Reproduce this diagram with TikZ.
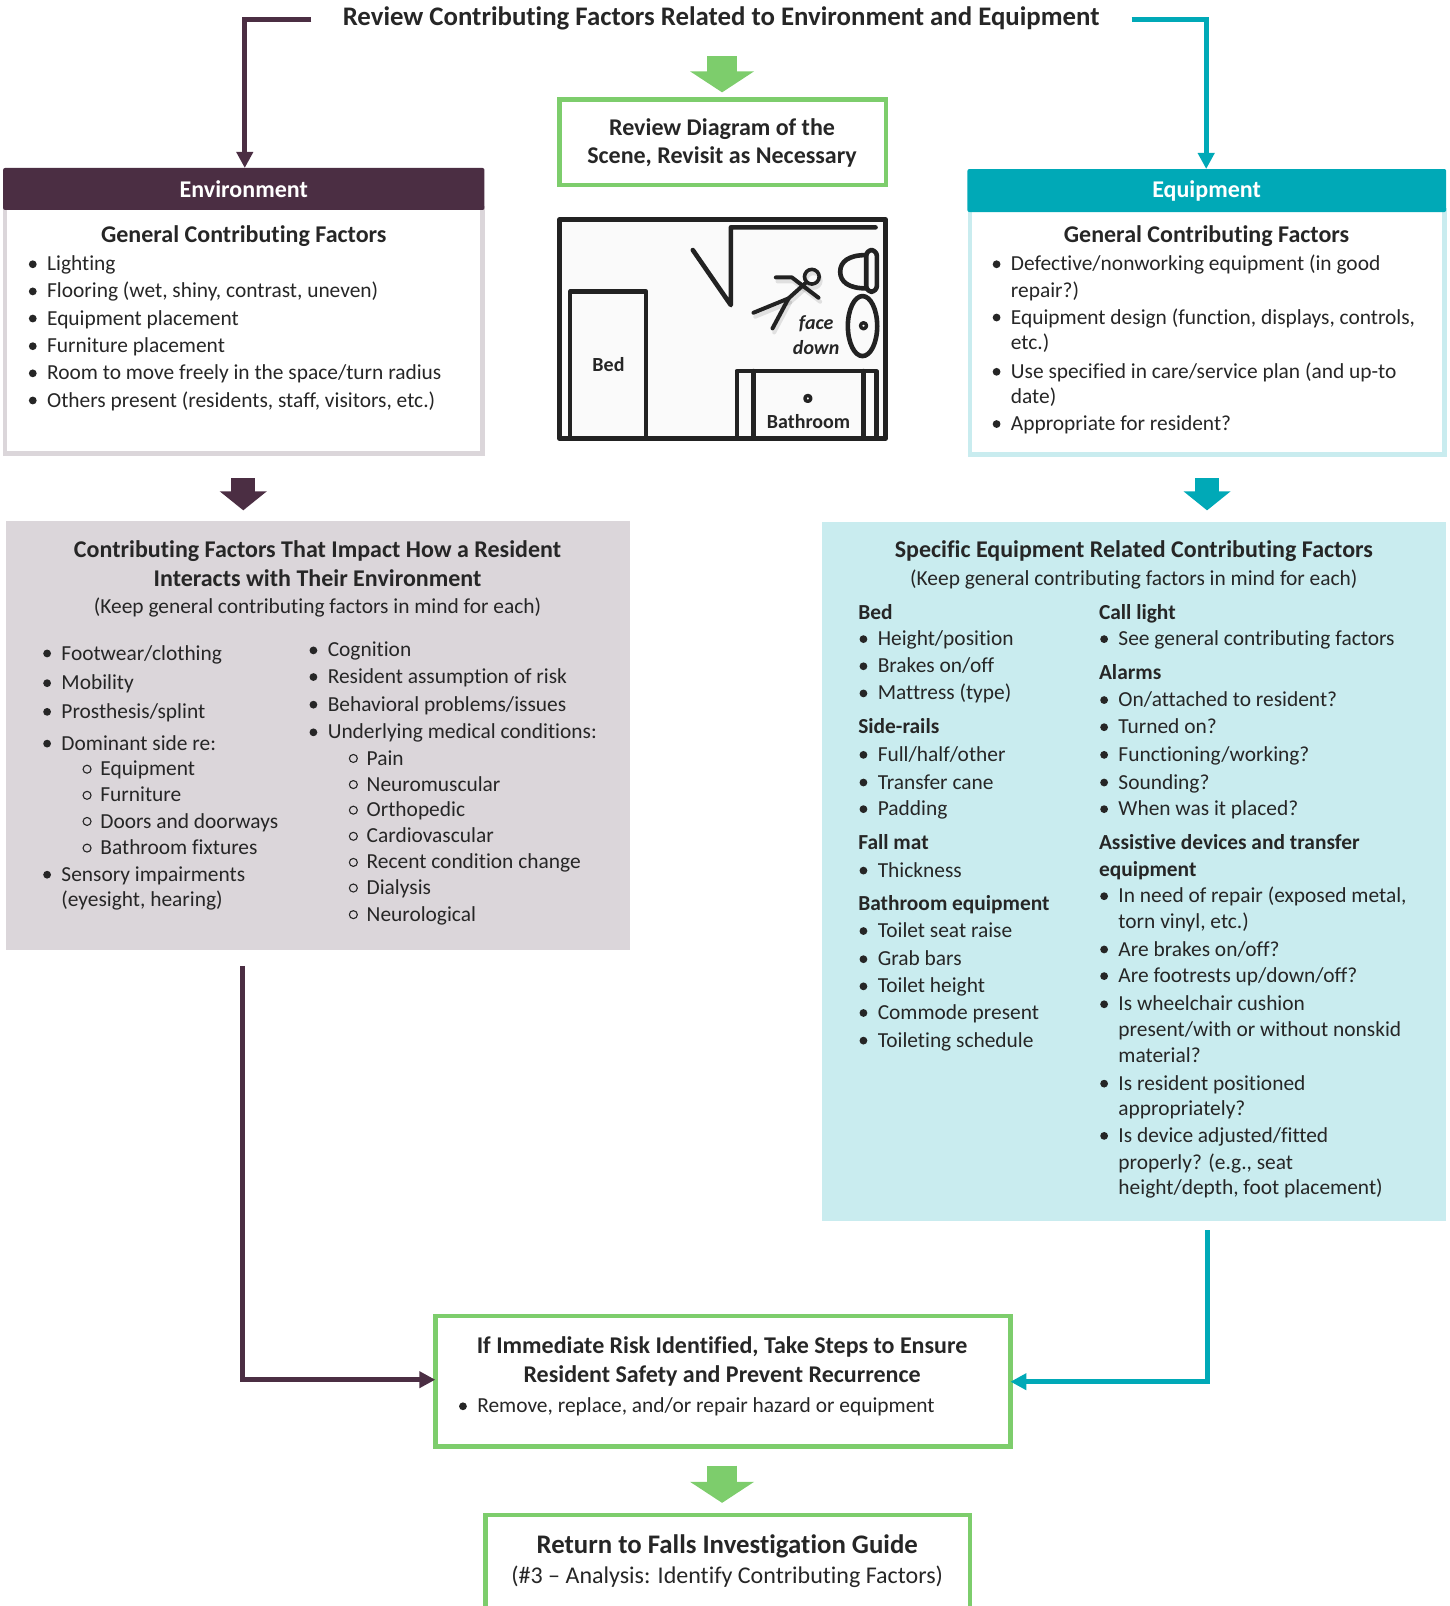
\documentclass[tikz,border=0pt]{standalone}
\usepackage{fontspec}
\setmainfont{Carlito}[Ligatures=NoCommon]
\usetikzlibrary{arrows.meta,fit,calc}
\definecolor{plum}{HTML}{4B2E43}
\definecolor{tealc}{HTML}{00A9B7}
\definecolor{greenc}{HTML}{7DCD6C}
\definecolor{greybg}{HTML}{DBD6DA}
\definecolor{tealbg}{HTML}{C9ECEF}
\definecolor{ink}{HTML}{262626}
\definecolor{planink}{HTML}{222222}
\tikzset{
  box/.style={inner sep=0pt,outer sep=0pt,rectangle},
  greenbox/.style={box,draw=greenc,line width=4.6pt,fill=white},
  envbody/.style={box,draw=greybg,line width=4.6pt,fill=white},
  eqbody/.style={box,draw=tealbg,line width=4.6pt,fill=white},
  head/.style={box,rounded corners=2pt},
  txt/.style={anchor=base west,inner sep=0pt,outer sep=0pt,text=ink,font=\fontsize{21.4}{26}\selectfont},
  btxt/.style={txt,font=\fontsize{21.4}{26}\selectfont\bfseries},
  ctxt/.style={txt,anchor=base},
  cbtxt/.style={txt,anchor=base,font=\fontsize{24}{29}\selectfont\bfseries},
  wall/.style={draw=planink,line width=4.6pt,line cap=round,line join=round},
  thinwall/.style={draw=planink,line width=3.4pt,line cap=round,line join=round},
  plumline/.style={draw=plum,line width=5pt,-{Triangle[width=16pt,length=16pt]}},
  tealline/.style={draw=tealc,line width=5pt,-{Triangle[width=16pt,length=16pt]}},
  greenblock/.style={draw=greenc,line width=30pt,-{Triangle[width=63pt,length=21pt]}},
  plumblock/.style={draw=plum,line width=24pt,-{Triangle[width=46pt,length=19pt]}},
  tealblock/.style={draw=tealc,line width=24pt,-{Triangle[width=46pt,length=19pt]}},
}
\newcounter{ln}
\newcommand{\bx}[6]{\node[#2,fit={(#3,#4)(#5,#6)}] (#1) {};}
\newcommand{\pl}[3]{\stepcounter{ln}\node[txt] (l\theln) at (#1,#2+7.4) {#3};}
\newcommand{\hd}[3]{\stepcounter{ln}\node[btxt] (l\theln) at (#1,#2+7.4) {#3};}
\newcommand{\ctr}[3]{\stepcounter{ln}\node[ctxt] (l\theln) at (#1,#2+7.4) {#3};}
\newcommand{\cbd}[3]{\stepcounter{ln}\node[cbtxt] (l\theln) at (#1,#2+8) {#3};}
\newcommand{\bl}[3]{\fill[ink] (#1,#2+1) circle[radius=3.9pt];\pl{#1+14}{#2}{#3}}
\newcommand{\ol}[3]{\draw[ink,line width=1.1pt] (#1,#2+1) circle[radius=4pt];\pl{#1+13}{#2}{#3}}
\begin{document}
\begin{tikzpicture}[x=1.024pt,y=-1.024pt]
\path[use as bounding box,clip] (0,0) rectangle (1415,1568);

% boxes
\node[box,minimum width=821pt,minimum height=24pt] (title) at (704,19) {};
\bx{review}{greenbox}{546}{97}{865}{180.5}
\bx{envbody}{envbody}{5}{203}{471.3}{442.5}
\bx{envhead}{head,fill=plum}{3}{164}{473}{205}
\bx{eqbody}{eqbody}{947}{205}{1410.3}{443.5}
\bx{eqhead}{head,fill=tealc}{944.5}{165}{1412}{207}
\bx{greybox}{box,fill=greybg}{6}{509}{615}{927.5}
\bx{tealbox}{box,fill=tealbg}{803}{510}{1412}{1191.7}
\bx{action}{greenbox}{425}{1285}{986.5}{1412}
\bx{returnb}{greenbox}{474}{1479}{947}{1580}

% connectors
\draw[plumline] ([xshift=1pt]title.west) -| ([xshift=1pt]envhead.north) ;
\draw[tealline] (title.east) -| ([xshift=-0.6pt]eqhead.north);
\coordinate (gs1) at (705,55);
\draw[greenblock,shorten >=7pt] (gs1) -- (gs1 |- review.north);
\coordinate (ps) at (237.5,467);
\draw[plumblock,shorten >=11pt] (ps) -- (ps |- greybox.north);
\coordinate (ts) at (1178.5,467);
\draw[tealblock,shorten >=12pt] (ts) -- (ts |- tealbox.north);
\coordinate (pc) at (237,943);
\draw[plumline] (pc) |- ([yshift=1.5pt]action.west);
\coordinate (tc) at (1178.5,1201);
\draw[tealline] (tc) |- ([yshift=-0.5pt]action.east);
\coordinate (gs2) at (705,1431);
\draw[greenblock,shorten >=12pt] (gs2) -- (gs2 |- returnb.north);

% title
\node[txt,anchor=base,font=\fontsize{26.8}{32}\selectfont\bfseries] (titletext) at (704,25) {Review Contributing Factors Related to Environment and Equipment};

% review
\cbd{705}{124}{Review Diagram of the}
\cbd{705}{152}{Scene, Revisit as Necessary}

% headers
\node[cbtxt,text=white] (envt) at (238,193) {Environment};
\node[cbtxt,text=white] (eqt) at (1178,193) {Equipment};

% Environment
\cbd{238}{229}{General Contributing Factors}
\bl{32}{257}{Lighting}
\bl{32}{283.5}{Flooring (wet, shiny, contrast, uneven)}
\bl{32}{310}{Equipment placement}
\bl{32}{337}{Furniture placement}
\bl{32}{363.5}{Room to move freely in the space/turn radius}
\bl{32}{390}{Others present (residents, staff, visitors, etc.)}

% Equipment
\cbd{1178}{229}{General Contributing Factors}
\bl{973}{257}{Defective/nonworking equipment (in good}
\pl{987}{283}{repair?)}
\bl{973}{309}{Equipment design (function, displays, controls,}
\pl{987}{334}{etc.)}
\bl{973}{362}{Use specified in care/service plan (and up-to}
\pl{987}{387}{date)}
\bl{973}{413}{Appropriate for resident?}

% Grey box
\cbd{310}{536}{Contributing Factors That Impact How a Resident}
\cbd{310}{565}{Interacts with Their Environment}
\ctr{310}{592}{(Keep general contributing factors in mind for each)}
\bl{46}{637}{Footwear/clothing}
\bl{46}{666}{Mobility}
\bl{46}{694}{Prosthesis/splint}
\bl{46}{725}{Dominant side re:}
\ol{85}{750}{Equipment}
\ol{85}{775.5}{Furniture}
\ol{85}{801}{Doors and doorways}
\ol{85}{827}{Bathroom fixtures}
\bl{46}{853}{Sensory impairments}
\pl{60}{878}{(eyesight, hearing)}
\bl{306}{634}{Cognition}
\bl{306}{660}{Resident assumption of risk}
\bl{306}{687}{Behavioral problems/issues}
\bl{306}{714}{Underlying medical conditions:}
\ol{345}{739.5}{Pain}
\ol{345}{765}{Neuromuscular}
\ol{345}{790}{Orthopedic}
\ol{345}{815.5}{Cardiovascular}
\ol{345}{841}{Recent condition change}
\ol{345}{866}{Dialysis}
\ol{345}{892}{Neurological}

% Teal box
\cbd{1107}{536}{Specific Equipment Related Contributing Factors}
\ctr{1107}{564}{(Keep general contributing factors in mind for each)}
\hd{838}{597}{Bed}
\bl{843}{623}{Height/position}
\bl{843}{649.5}{Brakes on/off}
\bl{843}{676}{Mattress (type)}
\hd{838}{709}{Side-rails}
\bl{843}{736}{Full/half/other}
\bl{843}{763}{Transfer cane}
\bl{843}{789}{Padding}
\hd{838}{822}{Fall mat}
\bl{843}{849}{Thickness}
\hd{838}{882}{Bathroom equipment}
\bl{843}{908}{Toilet seat raise}
\bl{843}{935.5}{Grab bars}
\bl{843}{962}{Toilet height}
\bl{843}{988}{Commode present}
\bl{843}{1015}{Toileting schedule}
\hd{1073}{597}{Call light}
\bl{1078}{623}{See general contributing factors}
\hd{1073}{656}{Alarms}
\bl{1078}{682.5}{On/attached to resident?}
\bl{1078}{709}{Turned on?}
\bl{1078}{736}{Functioning/working?}
\bl{1078}{763}{Sounding?}
\bl{1078}{789}{When was it placed?}
\hd{1073}{822}{Assistive devices and transfer}
\hd{1073}{848}{equipment}
\bl{1078}{874}{In need of repair (exposed metal,}
\pl{1092}{899.5}{torn vinyl, etc.)}
\bl{1078}{926}{Are brakes on/off?}
\bl{1078}{952}{Are footrests up/down/off?}
\bl{1078}{979.5}{Is wheelchair cushion}
\pl{1092}{1005}{present/with or without nonskid}
\pl{1092}{1030}{material?}
\bl{1078}{1057}{Is resident positioned}
\pl{1092}{1082}{appropriately?}
\bl{1078}{1108}{Is device adjusted/fitted}
\pl{1092}{1134}{properly? (e.g., seat}
\pl{1092}{1159}{height/depth, foot placement)}

% Action
\cbd{705}{1313}{If Immediate Risk Identified, Take Steps to Ensure}
\cbd{705}{1342}{Resident Safety and Prevent Recurrence}
\bl{452}{1372}{Remove, replace, and/or repair hazard or equipment}

% Return
\node[txt,anchor=base,font=\fontsize{26.8}{32}\selectfont\bfseries] (ret1) at (710,1517) {Return to Falls Investigation Guide};
\node[txt,anchor=base,font=\fontsize{24}{30}\selectfont] (ret2) at (710,1546) {(\#3 – Analysis: Identify Contributing Factors)};

% floor plan (units: 1/3 px of the full-size reference)
\begin{scope}[x=0.33333pt,y=-0.33333pt,shift={(540pt,-200pt)}]
\draw[wall,fill=white!98!black] (58,58) rectangle (1036,715);
\draw[wall] (90,715) -- (90,275) -- (318,275) -- (318,715);
\draw[wall] (1006,82) -- (572,82) -- (572,315) -- (458,150);
\draw[wall] (590,715) -- (590,513) -- (1008,513) -- (1008,715);
\draw[wall] (640,513) -- (640,715);
\draw[wall] (970,513) -- (970,715);
\draw[wall,rounded corners=6pt] (978,150) rectangle (1010,275);
\draw[wall] (978,165) .. controls (925,165) and (900,185) .. (900,215) .. controls (900,245) and (925,265) .. (978,265);
\draw[wall] (967,378) ellipse[x radius=44,y radius=90];
\draw[thinwall] (970,377) circle[radius=9];
\draw[thinwall] (803,595) circle[radius=9];
\foreach \dx/\dy/\col/\op in {5/12/black/0.1,0/0/planink/1}{
  \begin{scope}[shift={(\dx,\dy)}]
  \draw[draw=\col,opacity=\op,line width=4pt,line cap=round,line join=round] (707,232) -- (755,232) -- (835,293);
  \draw[draw=\col,opacity=\op,line width=4pt,line cap=round,line join=round] (795,250) -- (745,295) -- (640,338);
  \draw[draw=\col,opacity=\op,line width=4pt,line cap=round,line join=round] (745,295) -- (697,385);
  \draw[draw=\col,opacity=\op,line width=3.6pt] (815,230) circle[radius=22];
  \end{scope}
}
\node[txt,anchor=center,font=\fontsize{20}{24}\selectfont\bfseries] (bedt) at (205,492) {Bed};
\node[txt,anchor=center,font=\fontsize{20}{24}\selectfont\bfseries] (batht) at (805,665) {Bathroom};
\node[txt,anchor=center,font=\fontsize{20}{24}\selectfont\bfseries\itshape] (facet) at (828,370) {face};
\node[txt,anchor=center,font=\fontsize{20}{24}\selectfont\bfseries\itshape] (downt) at (828,441) {down};
\end{scope}
\end{tikzpicture}
\end{document}
